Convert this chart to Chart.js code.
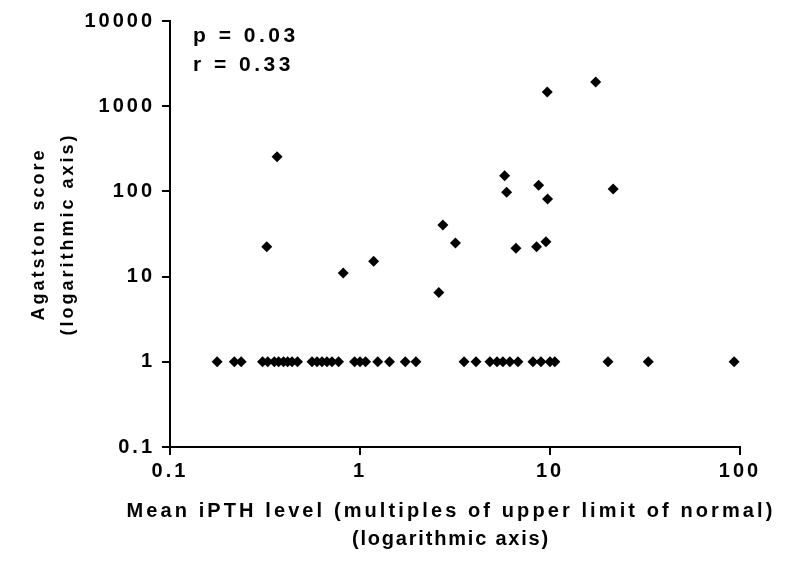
<!DOCTYPE html>
<html>
<head>
<meta charset="utf-8">
<title>Agatston score vs mean iPTH</title>
<script src="https://cdn.jsdelivr.net/npm/chart.js@4.4.1/dist/chart.umd.min.js"></script>
<style>
  html, body { margin: 0; padding: 0; background: #fff; }
  #wrap { position: relative; width: 792px; height: 568px; }
  .txt {
    position: absolute; color: #000; line-height: 1; white-space: nowrap;
    font-family: "Liberation Sans", Arial, sans-serif; font-weight: bold;
  }
  .stat { left: 193px; font-size: 21px; letter-spacing: 3.5px; }
  .xtitle { left: 451px; transform: translateX(-50%); font-size: 20px; }
</style>
</head>
<body>
<div id="wrap">
  <canvas id="chart" width="792" height="568"></canvas>
  <div class="txt stat" style="top:24px">p = 0.03</div>
  <div class="txt stat" style="top:53px">r = 0.33</div>
  <div class="txt xtitle" id="xtitle-1" style="top:500px; letter-spacing:3.1px"></div>
  <div class="txt xtitle" id="xtitle-2" style="top:528px; letter-spacing:1.8px"></div>
</div>

<script>
// Agatston score vs mean iPTH level — scatter, both axes logarithmic

// patients with a measurable score
const CALC_IPTH     = [0.366, 9.67, 17.4, 5.77, 5.91, 8.71, 9.71, 21.5, 0.323, 0.816, 1.18, 2.73, 3.18, 2.60, 6.62, 8.50, 9.52];
const CALC_AGATSTON = [255, 1470, 1920, 153, 98, 118, 81.5, 107, 22.4, 11.0, 15.1, 40.3, 24.8, 6.5, 21.5, 22.4, 25.7];

// patients plotted on the 1 line
const BASE_IPTH     = [0.177, 0.218, 0.237, 0.307, 0.327, 0.354, 0.373, 0.396, 0.416, 0.439, 0.469,
                       0.559, 0.594, 0.631, 0.670, 0.712, 0.771, 0.936, 1.00, 1.07, 1.24, 1.43, 1.73, 1.97,
                       3.53, 4.08, 4.83, 5.26, 5.65, 6.15, 6.78, 8.13, 8.96, 10.0, 10.6, 20.2, 32.9, 93.1];
const BASE_AGATSTON = [1, 1, 1, 1, 1, 1, 1, 1, 1, 1, 1,
                       1, 1, 1, 1, 1, 1, 1, 1, 1, 1, 1, 1, 1,
                       1, 1, 1, 1, 1, 1, 1, 1, 1, 1, 1, 1, 1, 1];

const X_TICKS = [0.1, 1, 10, 100];
const Y_TICKS = [0.1, 1, 10, 100, 1000, 10000];

const X_TITLE = ['Mean iPTH level (multiples of upper limit of normal)', '(logarithmic axis)'];
const Y_TITLE = ['Agatston score', '(logarithmic axis)'];

// x title sits in the page (wider than the plot, the canvas title would squeeze it)
document.getElementById('xtitle-1').textContent = X_TITLE[0];
document.getElementById('xtitle-2').textContent = X_TITLE[1];

// ── Chart ─────────────────────────────────────────────────────────────────────
const FONT = "'Liberation Sans', Arial, sans-serif";
const tickFont   = { family: FONT, size: 20, weight: 'bold' };
const yTitleFont = { family: FONT, size: 18, weight: 'bold', lineHeight: 1.6 };

const toPoints = (xs, ys) => xs.map((x, i) => ({ x, y: ys[i] }));

// the source figure uses widely spaced lettering
const spacing = {
  id: 'letterSpacing',
  beforeUpdate(chart) { chart.ctx.letterSpacing = '3px'; },
  beforeDraw(chart)   { chart.ctx.letterSpacing = '3px'; },
};

const axisLines = {
  grid:   { display: true, drawOnChartArea: false, drawTicks: true, tickLength: 8, color: '#000', lineWidth: 2 },
  border: { display: true, color: '#000', width: 2 },
};

const pointStyle = {
  pointStyle: 'rectRot', pointRadius: 5.5, pointHoverRadius: 5.5,
  backgroundColor: '#000', borderColor: '#000', borderWidth: 0,
};

new Chart(document.getElementById('chart'), {
  type: 'scatter',
  data: {
    datasets: [
      { label: 'calcified', data: toPoints(CALC_IPTH, CALC_AGATSTON), ...pointStyle },
      { label: 'baseline',  data: toPoints(BASE_IPTH, BASE_AGATSTON), ...pointStyle },
    ],
  },
  options: {
    responsive: false,
    animation: false,
    layout: { padding: { left: 0, top: 21, right: 52, bottom: 0 } },
    plugins: { legend: { display: false }, tooltip: { enabled: false } },
    scales: {
      x: {
        type: 'logarithmic', position: 'bottom', min: 0.1, max: 100,
        afterBuildTicks: s => { s.ticks = X_TICKS.map(v => ({ value: v })); },
        afterFit: s => { s.height = 121; },
        ticks: { color: '#000', font: tickFont, padding: 4, maxRotation: 0, autoSkip: false, callback: v => String(v) },
        ...axisLines,
        title: { display: false },
      },
      y: {
        type: 'logarithmic', position: 'left', min: 0.1, max: 10000,
        afterBuildTicks: s => { s.ticks = Y_TICKS.map(v => ({ value: v })); },
        afterFit: s => { s.width = 170; },
        ticks: { color: '#000', font: tickFont, padding: 7, autoSkip: false, callback: v => String(v) },
        ...axisLines,
        title: { display: true, text: Y_TITLE, color: '#000', font: yTitleFont, padding: { top: 24.6, bottom: 0 } },
      },
    },
  },
  plugins: [spacing],
});
</script>
</body>
</html>
